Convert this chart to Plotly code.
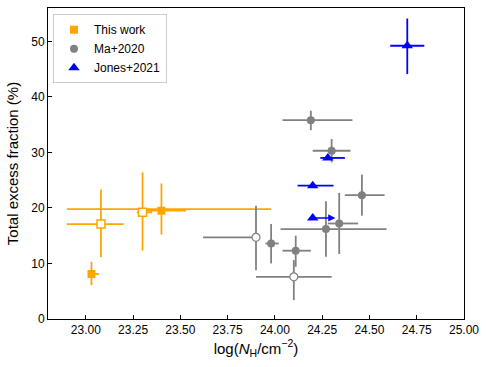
import plotly.graph_objects as go

# This work (orange): filled and open squares
tw_x = [23.03, 23.40]
tw_y = [8.1, 19.5]
tw_xm = [0.015, 0.08]
tw_xp = [0.04, 0.13]
tw_ym = [2.0, 4.3]
tw_yp = [2.2, 4.9]

tw_open_x = [23.08, 23.30]
tw_open_y = [17.1, 19.2]
tw_open_xm = [0.18, 0.03]
tw_open_xp = [0.12, 0.05]
tw_open_ym = [6.0, 6.9]
tw_open_yp = [6.2, 7.2]

# wide x-range bar without visible marker
tw_wide_x = [23.40]
tw_wide_y = [19.8]
tw_wide_xm = [0.50]
tw_wide_xp = [0.58]

# Ma+2020 (gray)
ma_x = [24.19, 24.30, 24.46, 24.34, 24.27, 23.98, 24.11]
ma_y = [35.8, 30.3, 22.3, 17.2, 16.2, 13.6, 12.3]
ma_xm = [0.15, 0.10, 0.09, 0.06, 0.24, 0.03, 0.07]
ma_xp = [0.22, 0.10, 0.12, 0.10, 0.32, 0.04, 0.08]
ma_ym = [1.8, 2.1, 3.7, 5.5, 5.0, 3.6, 2.9]
ma_yp = [1.7, 2.1, 3.7, 5.5, 5.0, 3.5, 2.7]

ma_open_x = [23.90, 24.10]
ma_open_y = [14.7, 7.6]
ma_open_xm = [0.28, 0.20]
ma_open_xp = [0.0, 0.20]
ma_open_ym = [5.9, 4.2]
ma_open_yp = [5.7, 3.0]

# Jones+2021 (blue)
jo_x = [24.28, 24.20, 24.70]
jo_y = [29.0, 24.0, 49.2]
jo_xm = [0.04, 0.08, 0.09]
jo_xp = [0.09, 0.11, 0.09]
jo_ym = [0, 0, 5.1]
jo_yp = [0, 0, 4.9]

# lower limit with arrow
jo_lim_x = [24.20]
jo_lim_y = [18.2]
jo_lim_to = [24.32]

ORANGE = '#FFA500'
GRAY = '#808080'
BLUE = '#0000FF'


def ebar(arr, arrm, color):
    return dict(type='data', symmetric=False, array=arr, arrayminus=arrm,
                color=color, thickness=1.8, width=0)


fig = go.Figure()

fig.add_trace(go.Scatter(x=tw_wide_x, y=tw_wide_y, mode='markers',
                         marker=dict(size=1, color=ORANGE, opacity=0),
                         error_x=ebar(tw_wide_xp, tw_wide_xm, ORANGE),
                         showlegend=False, hoverinfo='skip'))
fig.add_trace(go.Scatter(x=tw_x, y=tw_y, mode='markers', name='This work',
                         marker=dict(symbol='square', size=8, color=ORANGE),
                         error_x=ebar(tw_xp, tw_xm, ORANGE),
                         error_y=ebar(tw_yp, tw_ym, ORANGE)))
fig.add_trace(go.Scatter(x=tw_open_x, y=tw_open_y, mode='markers', showlegend=False,
                         marker=dict(symbol='square', size=8, color='white',
                                     line=dict(color=ORANGE, width=1.5)),
                         error_x=ebar(tw_open_xp, tw_open_xm, ORANGE),
                         error_y=ebar(tw_open_yp, tw_open_ym, ORANGE)))

fig.add_trace(go.Scatter(x=ma_x, y=ma_y, mode='markers', name='Ma+2020',
                         marker=dict(symbol='circle', size=8, color=GRAY),
                         error_x=ebar(ma_xp, ma_xm, GRAY),
                         error_y=ebar(ma_yp, ma_ym, GRAY)))
fig.add_trace(go.Scatter(x=ma_open_x, y=ma_open_y, mode='markers', showlegend=False,
                         marker=dict(symbol='circle', size=8, color='white',
                                     line=dict(color=GRAY, width=1.2)),
                         error_x=ebar(ma_open_xp, ma_open_xm, GRAY),
                         error_y=ebar(ma_open_yp, ma_open_ym, GRAY)))

fig.add_trace(go.Scatter(x=jo_x, y=jo_y, mode='markers', name='Jones+2021',
                         marker=dict(symbol='triangle-up', size=10, color=BLUE),
                         error_x=ebar(jo_xp, jo_xm, BLUE),
                         error_y=ebar(jo_yp, jo_ym, BLUE)))
fig.add_trace(go.Scatter(x=jo_lim_x, y=jo_lim_y, mode='markers', showlegend=False,
                         marker=dict(symbol='triangle-up', size=10, color=BLUE)))

for x0, y0, x1 in zip(jo_lim_x, jo_lim_y, jo_lim_to):
    fig.add_annotation(x=x1, y=y0, ax=x0, ay=y0, xref='x', yref='y',
                       axref='x', ayref='y', showarrow=True, arrowhead=2,
                       arrowsize=0.9, arrowwidth=1.6, arrowcolor=BLUE, text='')

FONT = 'Liberation Sans, Arial, sans-serif'
axis_common = dict(showline=True, linecolor='black', linewidth=1, mirror=True,
                   ticks='inside', ticklen=4, tickcolor='black', showgrid=False,
                   zeroline=False, tickfont=dict(size=12, color='black'))

fig.update_layout(
    width=490, height=367,
    margin=dict(l=48, r=26, t=8, b=48),
    plot_bgcolor='white', paper_bgcolor='white',
    font=dict(family=FONT, color='black'),
    xaxis=dict(range=[22.8, 25.0], tick0=23.0, dtick=0.25, tickformat='.2f',
               title=dict(text='log(<i>N</i><sub>H</sub>/cm<sup>\u22122</sup>)',
                          font=dict(size=15), standoff=4),
               **axis_common),
    yaxis=dict(range=[0, 56], tick0=0, dtick=10,
               title=dict(text='Total excess fraction (%)', font=dict(size=15), standoff=8),
               **axis_common),
    legend=dict(x=0.012, y=0.98, xanchor='left', yanchor='top',
                bgcolor='white', bordercolor='#cccccc', borderwidth=1,
                font=dict(size=12), tracegroupgap=0, itemwidth=30),
)

# drop the default page margin so the figure sits at the window's corner
fig.write_html("out.html", config={'displayModeBar': False},
               post_script="document.body.style.margin='0';")
